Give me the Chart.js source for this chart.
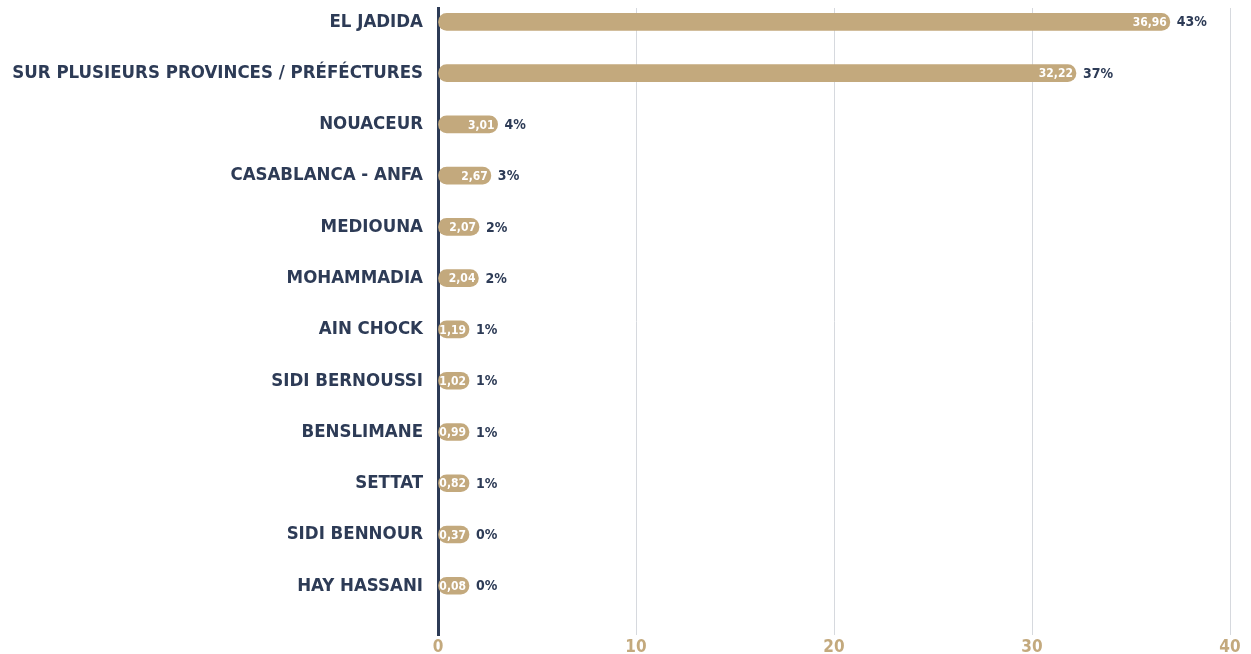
<!DOCTYPE html>
<html>
<head>
<meta charset="utf-8">
<script src="https://cdn.jsdelivr.net/npm/chart.js@4"></script>
<style>
  body { margin: 0; background: #fff; }
  #wrap { width: 1251px; height: 654px; position: relative; }
</style>
</head>
<body>
<div id="wrap"><canvas id="myChart"></canvas></div>
<script>
const categories = ["EL JADIDA", "SUR PLUSIEURS PROVINCES / PRÉFÉCTURES", "NOUACEUR", "CASABLANCA - ANFA", "MEDIOUNA", "MOHAMMADIA", "AIN CHOCK", "SIDI BERNOUSSI", "BENSLIMANE", "SETTAT", "SIDI BENNOUR", "HAY HASSANI"];
const values = [36.96, 32.22, 3.01, 2.67, 2.07, 2.04, 1.19, 1.02, 0.99, 0.82, 0.37, 0.08];
const shares = [43, 37, 4, 3, 2, 2, 1, 1, 1, 1, 0, 0];
const xTicks = [0, 10, 20, 30, 40];

const FONT = "'DejaVu Sans Condensed', 'DejaVu Sans', sans-serif";
const NAVY = "#2d3b56";
const TAN = "#c3a97d";

// labels inside / after each bar
const barLabels = {
  id: "barLabels",
  afterDatasetsDraw(chart) {
    const ctx = chart.ctx;
    const meta = chart.getDatasetMeta(0);
    ctx.save();
    ctx.textBaseline = "middle";
    meta.data.forEach((bar, i) => {
      ctx.font = "bold 12px " + FONT;
      ctx.fillStyle = "#ffffff";
      ctx.textAlign = "right";
      ctx.fillText(values[i].toFixed(2).replace(".", ","), bar.x - 3, bar.y + 1);
      ctx.font = "bold 14px " + FONT;
      ctx.fillStyle = NAVY;
      ctx.textAlign = "left";
      ctx.fillText(shares[i] + "%", bar.x + 7, bar.y + 1);
    });
    ctx.restore();
  },
};

const ctx = document.getElementById("myChart").getContext("2d");
const myChart = new Chart(ctx, {
  type: "bar",
  data: {
    datasets: [
      {
        data: values.map((v, i) => ({ x: v, y: i })),
        backgroundColor: TAN,
        borderWidth: 0,
        borderRadius: 9,
        borderSkipped: false,
        barThickness: 17,
        minBarLength: 31,
      },
    ],
  },
  options: {
    indexAxis: "y",
    responsive: true,
    maintainAspectRatio: false,
    animation: false,
    layout: { padding: { top: 8, right: 21, left: 0, bottom: 0 } },
    plugins: { legend: { display: false }, tooltip: { enabled: false } },
    scales: {
      x: {
        type: "linear",
        min: 0,
        max: 40,
        afterBuildTicks: (s) => { s.ticks = xTicks.map((v) => ({ value: v })); },
        afterFit: (s) => { s.height = 19; s.paddingLeft = 0; s.paddingRight = 0; },
        grid: { color: "#d6d9de", lineWidth: 1, drawTicks: false },
        border: { display: false },
        ticks: { color: TAN, padding: 2, font: { family: FONT, size: 17, weight: "bold" } },
      },
      y: {
        type: "linear",
        reverse: true,
        offset: false,
        min: -0.27,
        max: 11.96,
        afterBuildTicks: (s) => { s.ticks = categories.map((c, i) => ({ value: i })); },
        afterFit: (s) => { s.width = 438; s.paddingTop = 0; s.paddingBottom = 0; },
        grid: { display: false, drawTicks: false, offset: false },
        border: { display: true, color: NAVY, width: 3 },
        ticks: {
          color: NAVY,
          padding: 15,
          font: { family: FONT, size: 18.5, weight: "bold" },
          callback: (v) => categories[v],
        },
      },
    },
  },
  plugins: [barLabels],
});
</script>
</body>
</html>
